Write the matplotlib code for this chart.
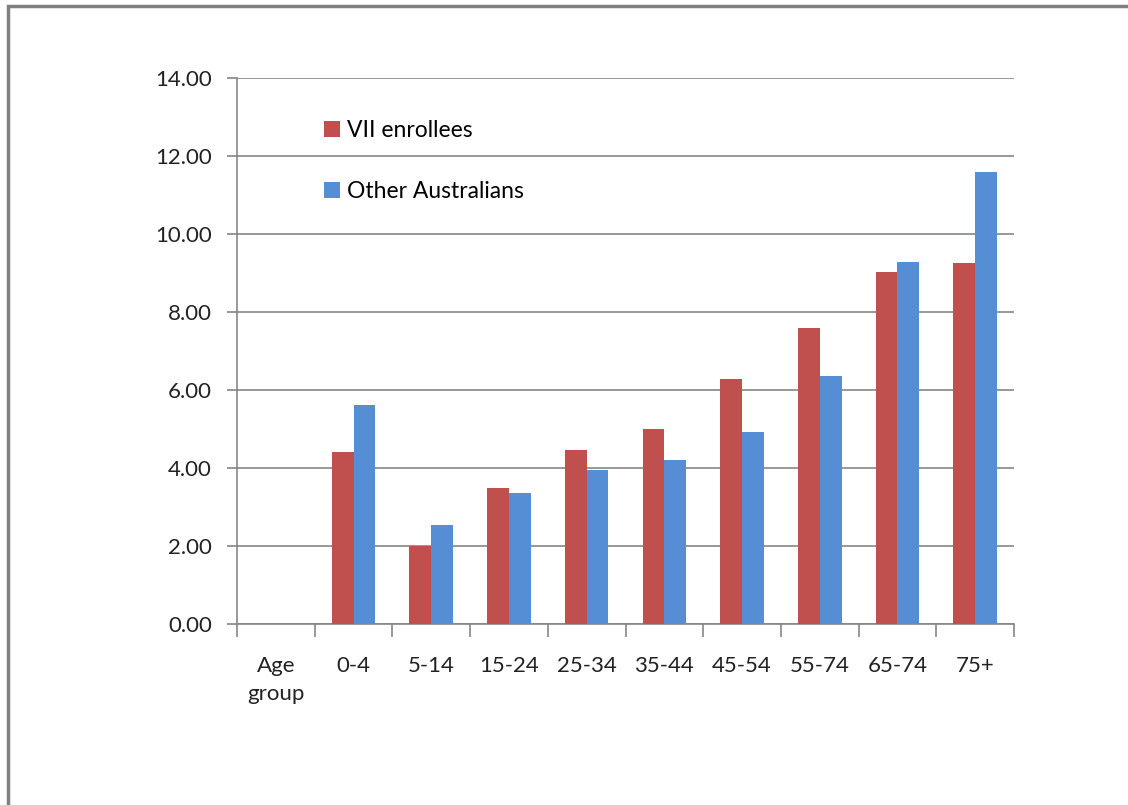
import numpy as np
import matplotlib
matplotlib.use("Agg")
import matplotlib.pyplot as plt
from matplotlib.patches import Rectangle

categories = ["Age\ngroup", "0-4", "5-14", "15-24", "25-34", "35-44", "45-54", "55-74", "65-74", "75+"]
vii_enrollees = [0, 4.40, 2.00, 3.48, 4.47, 5.00, 6.27, 7.58, 9.02, 9.25]
other_australians = [0, 5.62, 2.53, 3.35, 3.95, 4.20, 4.92, 6.36, 9.29, 11.59]
yticks = [0, 2, 4, 6, 8, 10, 12, 14]

plt.rcParams['font.family'] = ['Lato', 'DejaVu Sans']

fig = plt.figure(figsize=(11.28, 8.05), dpi=100)
ax = fig.add_axes([237/1128, 1 - 624/805, 777/1128, 546/805])

# outer frame of the chart area (runs off right and bottom)
fig.patches.append(Rectangle((8/1128, -0.1), 1.2, 1.1 - 6.5/805, transform=fig.transFigure,
                             fill=False, edgecolor="#808080", linewidth=2.5))

x = np.arange(len(categories)) + 0.5
w = 0.28
ax.bar(x[1:] - w/2, vii_enrollees[1:], w, color="#C0504D", label="VII enrollees", zorder=3)
ax.bar(x[1:] + w/2, other_australians[1:], w, color="#558ED5", label="Other Australians", zorder=3)

ax.set_xlim(0, len(categories))
ax.set_ylim(0, 14)
ax.set_yticks(yticks)
ax.set_yticklabels(["%.2f" % v for v in yticks])
ax.set_xticks(np.arange(len(categories) + 1))
ax.set_xticklabels([])
ax.set_xticks(x, minor=True)
ax.set_xticklabels(categories, minor=True, linespacing=1.5)
ax.tick_params(axis='x', which='minor', length=0, pad=23, labelsize=16, colors="#222222")
ax.tick_params(axis='x', which='major', length=9, color="#868686", width=1.2)
ax.tick_params(axis='y', length=7, color="#868686", width=1.2, labelsize=16, labelcolor="#222222", pad=11)

ax.grid(axis='y', color="#868686", linewidth=1.2, zorder=0)
for s in ["top", "right"]:
    ax.spines[s].set_visible(False)
for s in ["left", "bottom"]:
    ax.spines[s].set_color("#868686")
    ax.spines[s].set_linewidth(1.2)

ax.legend(loc='upper left', bbox_to_anchor=(0.086, 0.96), frameon=False, fontsize=16.5,
          handlelength=0.7, handleheight=0.7, handletextpad=0.3, labelspacing=1.72)

fig.savefig("out.png", dpi=100)
